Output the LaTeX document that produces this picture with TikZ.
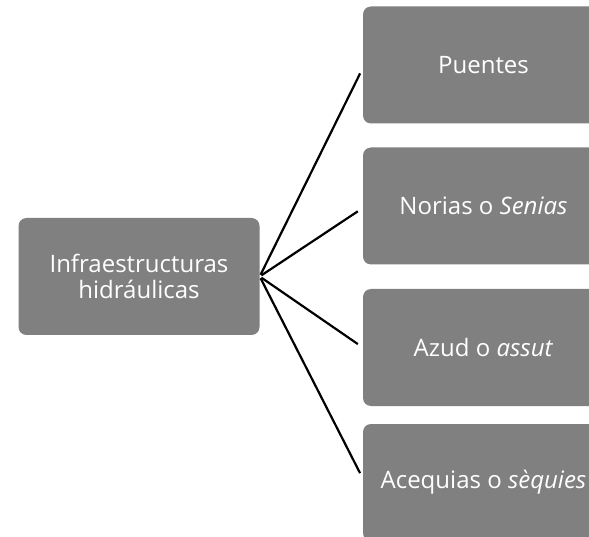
\documentclass[tikz,border=0pt]{standalone}
\usepackage{fontspec}
\setmainfont{Open Sans}
\begin{document}
\begin{tikzpicture}[x=1pt,y=1pt,
  box/.style={rectangle, rounded corners=8pt, fill=boxgray, draw=none,
    minimum width=241pt, minimum height=117pt, text=white, align=center, inner sep=0pt,
    font=\fontsize{24}{25.5}\selectfont},
  link/.style={line width=2.2pt, black, shorten >=6pt, shorten <=2pt}]
\definecolor{boxgray}{RGB}{128,128,128}
\useasboundingbox (0,0) rectangle (589,536);
\clip (0,0) rectangle (589,536);
\node[box] (root) at (139,259.5) {Infraestructuras\\hidráulicas};
\node[box] (p) at (483.5,471) {Puentes};
\node[box] (n) at (483.5,330) {Norias o \textit{Senias}};
\node[box] (a) at (483.5,188.5) {Azud o \textit{assut}};
\node[box] (q) at (483.5,53.5) {Acequias o \textit{sèquies}};
\draw[link] (root.east) -- ([yshift=-3pt]p.west);
\draw[link] (root.east) -- ([yshift=-2pt]n.west);
\draw[link] (root.east) -- (a.west);
\draw[link] (root.east) -- ([yshift=4pt]q.west);
\end{tikzpicture}
\end{document}
